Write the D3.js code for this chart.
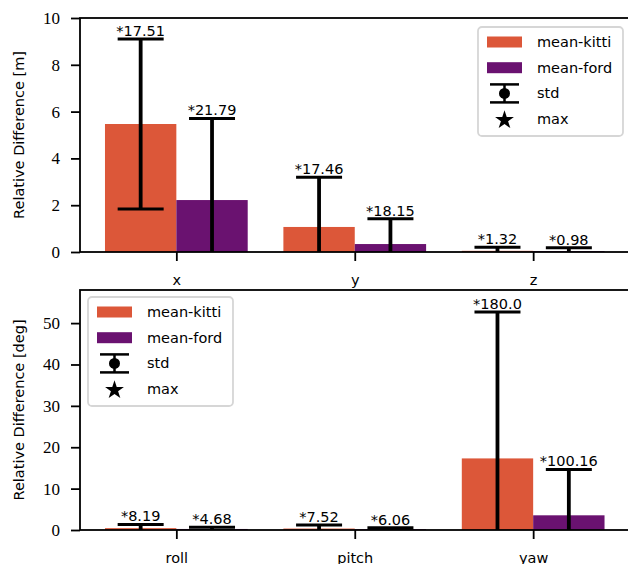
<!DOCTYPE html>
<html>
<head>
<meta charset="utf-8">
<script src="https://cdn.jsdelivr.net/npm/d3@7"></script>
<style>
  body { margin: 0; background: #fff; }
  svg { display: block; }
</style>
</head>
<body>
<div id="plot"></div>
<script>
// translation errors (top) and rotation errors (bottom)
const transCats = ["x", "y", "z"];
const transKittiMean = [5.47, 1.07, 0.05];
const transKittiStd = [3.63, 2.12, 0.15];
const transFordMean = [2.22, 0.34, 0.04];
const transFordStd = [3.49, 1.08, 0.14];
const transKittiMax = [17.51, 17.46, 1.32];
const transFordMax = [21.79, 18.15, 0.98];
const transTicks = [0, 2, 4, 6, 8, 10];

const rotCats = ["roll", "pitch", "yaw"];
const rotKittiMean = [0.45, 0.35, 17.3];
const rotKittiStd = [0.9, 0.85, 35.4];
const rotFordMean = [0.25, 0.2, 3.55];
const rotFordStd = [0.4, 0.36, 11.1];
const rotKittiMax = [8.19, 7.52, 180.0];
const rotFordMax = [4.68, 6.06, 100.16];
const rotTicks = [0, 10, 20, 30, 40, 50];

const seriesNames = ["mean-kitti", "mean-ford"];

window.addEventListener("load", main);

function main(){
  const width = 628, height = 564;
  const kittiColor = "#dc5739", fordColor = "#6a1270";
  const sans = "'DejaVu Sans', sans-serif";
  const serif = "'Liberation Serif', serif";
  const barW = 0.4;

  let svg = d3.select("#plot").append("svg")
    .attr("width", width)
    .attr("height", height);

  let fmt = v => Number.isInteger(v) ? v.toFixed(1) : String(v);

  // one bar panel
  function panel(opts){
    const {id, top, bottom, ymax, cats, kMean, kStd, fMean, fStd, kMax, fMax, ticks, ylabel, legendPos} = opts;
    const left = 80, right = 629.5;

    let x = d3.scaleLinear().domain([-0.54, 2.54]).range([left, right]);
    let y = d3.scaleLinear().domain([0, ymax]).range([bottom, top]);

    let g = svg.append("g").attr("id", id);

    g.append("clipPath").attr("id", id + "-clip")
      .append("rect")
        .attr("x", left).attr("y", top)
        .attr("width", right - left).attr("height", bottom - top);

    let plot = g.append("g").attr("clip-path", `url(#${id}-clip)`);

    let rows = cats.map((c, i) => ({
      i: i,
      kMean: kMean[i], kStd: kStd[i], kMax: kMax[i],
      fMean: fMean[i], fStd: fStd[i], fMax: fMax[i]
    }));

    // bars
    let bars = [];
    rows.forEach(r => {
      bars.push({x0: r.i - barW, mean: r.kMean, std: r.kStd, max: r.kMax, color: kittiColor});
      bars.push({x0: r.i, mean: r.fMean, std: r.fStd, max: r.fMax, color: fordColor});
    });

    plot.selectAll("rect.bar")
      .data(bars)
      .join("rect")
        .attr("class", "bar")
        .attr("x", d => x(d.x0))
        .attr("width", d => x(d.x0 + barW) - x(d.x0))
        .attr("y", d => y(d.mean))
        .attr("height", d => y(0) - y(d.mean))
        .attr("fill", d => d.color);

    // error bars
    const capHalf = 23;
    let eb = plot.selectAll("g.err")
      .data(bars)
      .join("g")
        .attr("class", "err");
    eb.append("line")
      .attr("x1", d => x(d.x0 + barW / 2)).attr("x2", d => x(d.x0 + barW / 2))
      .attr("y1", d => y(d.mean - d.std)).attr("y2", d => y(d.mean + d.std))
      .attr("stroke", "#000").attr("stroke-width", 3.8);
    eb.append("line")
      .attr("x1", d => x(d.x0 + barW / 2) - capHalf).attr("x2", d => x(d.x0 + barW / 2) + capHalf)
      .attr("y1", d => y(d.mean + d.std)).attr("y2", d => y(d.mean + d.std))
      .attr("stroke", "#000").attr("stroke-width", 3);
    eb.append("line")
      .attr("x1", d => x(d.x0 + barW / 2) - capHalf).attr("x2", d => x(d.x0 + barW / 2) + capHalf)
      .attr("y1", d => y(d.mean - d.std)).attr("y2", d => y(d.mean - d.std))
      .attr("stroke", "#000").attr("stroke-width", 3);

    // max annotations
    g.selectAll("text.maxlab")
      .data(bars)
      .join("text")
        .attr("class", "maxlab")
        .attr("x", d => x(d.x0 + barW / 2))
        .attr("y", d => y(d.mean + d.std) - 3)
        .attr("text-anchor", "middle")
        .style("font-family", sans)
        .style("font-size", "14.5px")
        .text(d => "*" + fmt(d.max));

    // axes
    let xAxis = d3.axisBottom(x)
      .tickValues(cats.map((c, i) => i))
      .tickFormat(i => cats[i])
      .tickSize(9).tickPadding(13.5);
    let xg = g.append("g").attr("transform", `translate(0,${bottom})`).call(xAxis);
    xg.select(".domain").remove();
    xg.selectAll("line").attr("stroke-width", 1.8);
    xg.selectAll("text").style("font-family", sans).style("font-size", "14.5px").attr("fill", "#000");

    let yAxis = d3.axisLeft(y).tickValues(ticks).tickSize(9).tickPadding(11);
    let yg = g.append("g").attr("transform", `translate(${left},0)`).call(yAxis);
    yg.select(".domain").remove();
    yg.selectAll("line").attr("stroke-width", 1.8);
    yg.selectAll("text").style("font-family", serif).style("font-size", "17px").attr("fill", "#000");

    // spines
    g.append("rect")
      .attr("x", left).attr("y", top)
      .attr("width", right - left).attr("height", bottom - top)
      .attr("fill", "none").attr("stroke", "#000").attr("stroke-width", 1.8);

    g.append("text")
      .attr("transform", `translate(19,${(top + bottom) / 2}) rotate(-90)`)
      .attr("text-anchor", "middle")
      .attr("dy", "0.35em")
      .style("font-family", sans)
      .style("font-size", "14.5px")
      .text(ylabel);

    drawLegend(g, legendPos[0], legendPos[1]);
  }

  // legend box with patches, std marker and star
  function drawLegend(g, lx, ly){
    const w = 145, h = 109, rowH = 25.7;
    let lg = g.append("g").attr("transform", `translate(${lx},${ly})`);
    lg.append("rect")
      .attr("width", w).attr("height", h).attr("rx", 4)
      .attr("fill", "#fff").attr("fill-opacity", 0.8)
      .attr("stroke", "#d6d6d6").attr("stroke-width", 1.8);

    let colors = [kittiColor, fordColor];
    let labels = seriesNames.concat(["std", "max"]);
    labels.forEach((lab, i) => {
      let cy = 15 + i * rowH;
      if (i < 2) {
        lg.append("rect")
          .attr("x", 9).attr("y", cy - 5.5).attr("width", 35).attr("height", 11)
          .attr("fill", colors[i]);
      } else if (i === 2) {
        lg.append("line").attr("x1", 26.5).attr("x2", 26.5).attr("y1", cy - 9).attr("y2", cy + 9)
          .attr("stroke", "#000").attr("stroke-width", 2.5);
        [cy - 9, cy + 9].forEach(yy => {
          lg.append("line").attr("x1", 12).attr("x2", 41).attr("y1", yy).attr("y2", yy)
            .attr("stroke", "#000").attr("stroke-width", 2.5);
        });
        lg.append("circle").attr("cx", 26.5).attr("cy", cy).attr("r", 5.5).attr("fill", "#000");
      } else {
        lg.append("path")
          .attr("d", d3.symbol(d3.symbolStar, 110)())
          .attr("transform", `translate(26.5,${cy + 1})`)
          .attr("fill", "#000");
      }
      lg.append("text")
        .attr("x", 59).attr("y", cy).attr("dy", "0.35em")
        .style("font-family", sans).style("font-size", "14.5px")
        .text(lab);
    });
  }

  panel({
    id: "trans", top: 18, bottom: 252, ymax: 10,
    cats: transCats, kMean: transKittiMean, kStd: transKittiStd,
    fMean: transFordMean, fStd: transFordStd, kMax: transKittiMax, fMax: transFordMax,
    ticks: transTicks, ylabel: "Relative Difference [m]", legendPos: [478, 27]
  });

  panel({
    id: "rot", top: 290, bottom: 530, ymax: 58,
    cats: rotCats, kMean: rotKittiMean, kStd: rotKittiStd,
    fMean: rotFordMean, fStd: rotFordStd, kMax: rotKittiMax, fMax: rotFordMax,
    ticks: rotTicks, ylabel: "Relative Difference [deg]", legendPos: [88, 297]
  });
}
</script>
</body>
</html>
